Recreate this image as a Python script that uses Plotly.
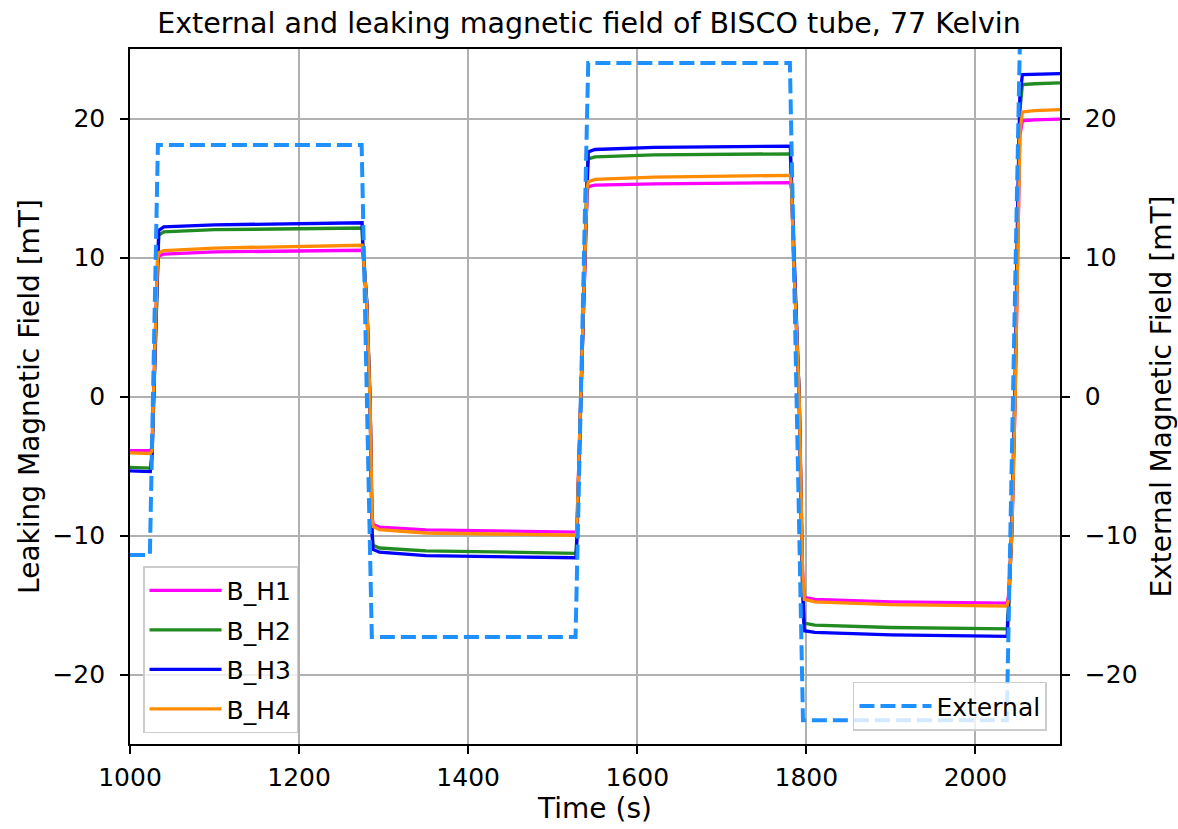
import plotly.graph_objects as go

# Sample times (s) shared by the four Hall sensors
time_s = [1000, 1024, 1026, 1029, 1032.5, 1034, 1040, 1100, 1274.5,
          1275.5, 1280, 1284, 1286.3, 1287.5, 1295, 1350, 1527.5,
          1528.5, 1533, 1537.5, 1540.5, 1542, 1550, 1620, 1781,
          1782.5, 1785, 1791.5, 1795.5, 1797.5, 1810, 1900, 2037.5,
          2039, 2043, 2047, 2050, 2052.5, 2055.5, 2070, 2100]

# Leaking field (mT) measured by each sensor
b_h1 = [-3.9, -3.9, -3.7, 2.0, 9.6, 10.1, 10.25, 10.4, 10.52,
        10.3, 6.6, -0.5, -8.6, -9.2, -9.4, -9.6, -9.75,
        -9.6, -1.0, 8.4, 14.6, 15.1, 15.2, 15.3, 15.38,
        14.9, 10.0, 0.0, -12.5, -14.45, -14.6, -14.78, -14.87,
        -14.4, -10.0, 0.0, 11.5, 18.8, 19.83, 19.9, 19.95]
b_h2 = [-5.1, -5.15, -4.2, 2.3, 10.3, 11.6, 11.85, 12.0, 12.12,
        10.6, 6.8, -0.4, -9.6, -10.7, -10.9, -11.1, -11.28,
        -10.2, -0.8, 8.8, 16.0, 17.1, 17.24, 17.38, 17.46,
        15.2, 10.1, 0.0, -13.5, -16.3, -16.45, -16.62, -16.72,
        -15.2, -9.6, 1.0, 13.5, 20.5, 22.44, 22.5, 22.56]
b_h3 = [-5.35, -5.4, -4.4, 2.4, 10.6, 11.95, 12.2, 12.35, 12.5,
        10.7, 6.9, -0.4, -9.9, -11.0, -11.2, -11.45, -11.6,
        -10.4, -0.7, 9.0, 16.4, 17.6, 17.77, 17.92, 18.01,
        15.3, 10.2, 0.0, -13.8, -16.85, -16.97, -17.15, -17.26,
        -15.5, -9.5, 1.3, 14.0, 21.5, 23.16, 23.2, 23.23]
b_h4 = [-4.05, -4.1, -3.9, 2.1, 9.8, 10.35, 10.5, 10.68, 10.88,
        10.5, 6.7, -0.5, -8.7, -9.35, -9.58, -9.82, -9.98,
        -9.7, -1.0, 8.5, 14.9, 15.45, 15.62, 15.78, 15.91,
        15.0, 10.0, 0.0, -12.6, -14.6, -14.78, -14.98, -15.08,
        -14.6, -10.0, 0.0, 11.5, 19.0, 20.47, 20.56, 20.64]

# Applied external field (mT)
time_ext = [1000, 1023.5, 1033, 1274, 1286, 1527, 1542, 1780.5, 1796, 2037, 2054, 2100]
b_ext = [-11.4, -11.4, 18.1, 18.1, -17.3, -17.3, 24.0, 24.0, -23.3, -23.3, 30.0, 30.0]

x_ticks = [1000, 1200, 1400, 1600, 1800, 2000]
y_ticks = [-20, -10, 0, 10, 20]

FONT = "DejaVu Sans"
sensors = [("B_H1", b_h1, "#ff00ff"),
           ("B_H2", b_h2, "#228b22"),
           ("B_H3", b_h3, "#0000ff"),
           ("B_H4", b_h4, "#ff8c00")]

fig = go.Figure()
for name, vals, color in sensors:
    fig.add_trace(go.Scatter(x=time_s, y=vals, mode="lines", name=name,
                             legendgroup=name,
                             line=dict(color=color, width=3.3), legend="legend"))

fig.add_trace(go.Scatter(x=time_ext, y=b_ext, mode="lines", name="External",
                         yaxis="y2", legend="legend2",
                         line=dict(color="#1e90ff", width=4, dash="15px,6px")))

axis_common = dict(showline=True, linecolor="black", linewidth=1.6,
                   ticks="outside", ticklen=8, tickwidth=1.6, tickcolor="black",
                   tickfont=dict(family=FONT, size=25, color="black"),
                   zeroline=False, automargin=False)

legend_common = dict(bgcolor="rgba(255,255,255,0.8)", bordercolor="#cccccc",
                     borderwidth=1.5, itemwidth=72,
                     font=dict(family=FONT, size=25))

fig.update_layout(
    width=1178, height=829,
    margin=dict(l=130, r=118, t=49, b=85),
    plot_bgcolor="white", paper_bgcolor="white",
    font=dict(family=FONT, color="black"),
    title=dict(text="External and leaking magnetic field of BISCO tube, 77 Kelvin",
               x=0.5, xanchor="center", y=1 - 23 / 829, yanchor="middle",
               yref="container", font=dict(family=FONT, size=28.5)),
    xaxis=dict(range=[1000, 2100], tickvals=x_ticks, mirror=True,
               showgrid=True, gridcolor="#b0b0b0", gridwidth=1.6,
               title=dict(text="Time (s)", font=dict(family=FONT, size=28), standoff=5),
               ticklabelstandoff=2, **axis_common),
    yaxis=dict(range=[-25, 25], tickvals=y_ticks, mirror=True,
               showgrid=True, gridcolor="#b0b0b0", gridwidth=1.6,
               title=dict(text="Leaking Magnetic Field [mT]", font=dict(family=FONT, size=28), standoff=5),
               ticklabelstandoff=10, **axis_common),
    yaxis2=dict(range=[-25, 25], tickvals=y_ticks, overlaying="y", side="right",
                showgrid=False,
                title=dict(text="External Magnetic Field [mT]", font=dict(family=FONT, size=28), standoff=17),
                ticklabelstandoff=10, **axis_common),
    legend=dict(x=0.014, y=0.256, xanchor="left", yanchor="top",
                tracegroupgap=4, **legend_common),
    legend2=dict(x=0.986, y=0.019, xanchor="right", yanchor="bottom",
                 **legend_common),
)

fig.write_html("out.html")
